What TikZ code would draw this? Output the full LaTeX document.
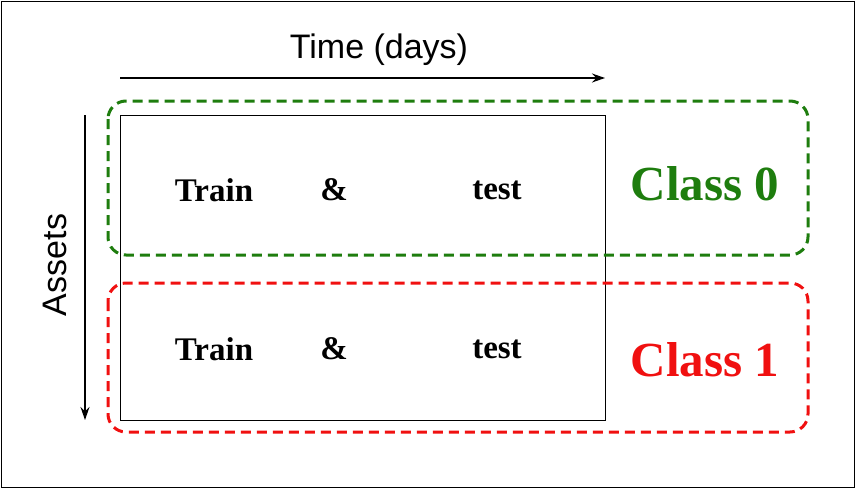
\documentclass[tikz,border=0pt]{standalone}
\usepackage{fontspec}
\usetikzlibrary{arrows.meta}
\setmainfont{Liberation Serif}
\newfontfamily\lsans{Liberation Sans}
\definecolor{cgreen}{HTML}{1E7D0E}
\definecolor{cred}{HTML}{F01010}
\begin{document}
\begin{tikzpicture}[x=1pt,y=-1pt,
  lbl/.style={font=\lsans\fontsize{34}{34}\selectfont},
  tt/.style={font=\bfseries\fontsize{33}{33}\selectfont},
  cls/.style={font=\bfseries\fontsize{49}{49}\selectfont},
  arr/.style={-{Stealth[length=13pt,width=9pt]},line width=1.3pt},
  grp/.style={line width=3pt,rounded corners=18pt,dash pattern=on 10pt off 6pt}]
\useasboundingbox (0,0) rectangle (855,488);
\draw[line width=1pt] (1,1) rectangle (854,487);
\draw[line width=1pt] (120,115) rectangle (605,420);
\coordinate (t0) at (120,78); \coordinate (t1) at (605,78);
\draw[arr] (t0) -- (t1);
\node[lbl] (time) at (379,50) {Time (days)};
\coordinate (a0) at (85,115); \coordinate (a1) at (85,420);
\draw[arr] (a0) -- (a1);
\node[lbl,rotate=90] (assets) at (55,265) {Assets};
\draw[grp,cgreen] (108,101) rectangle (808,255);
\draw[grp,cred] (108,283) rectangle (808,432);
\node[tt] (tr0) at (214,190) {Train};
\node[tt] (am0) at (334,190) {\&};
\node[tt] (te0) at (497,190) {test};
\node[tt] (tr1) at (214,349) {Train};
\node[tt] (am1) at (334,349) {\&};
\node[tt] (te1) at (497,349) {test};
\node[cls,text=cgreen] (c0) at (705,184) {Class 0};
\node[cls,text=cred] (c1) at (705,360) {Class 1};
\end{tikzpicture}
\end{document}
